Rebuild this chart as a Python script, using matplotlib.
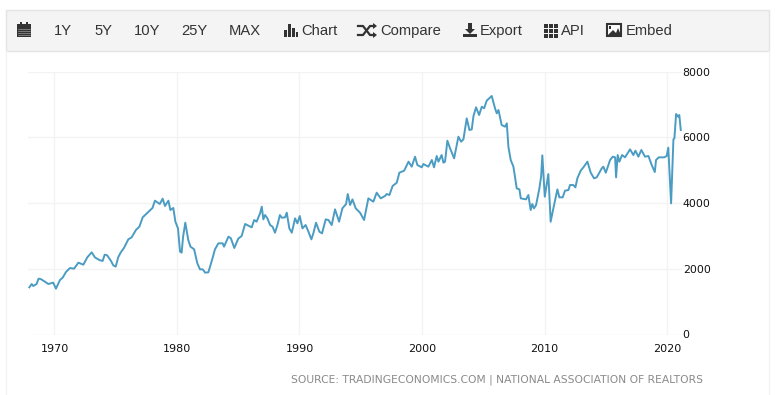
import matplotlib
matplotlib.use('Agg')
import matplotlib.pyplot as plt
from matplotlib.patches import Rectangle, Polygon

# values
years = [1967.95, 1968.14, 1968.27, 1968.54, 1968.7, 1968.87, 1969.09, 1969.5, 1969.9, 1970.12,
         1970.45, 1970.67, 1970.94, 1971.27, 1971.6, 1971.95, 1972.36, 1972.68, 1973.04, 1973.3,
         1973.66, 1973.93, 1974.1, 1974.3, 1974.6, 1974.8, 1975.0, 1975.2, 1975.4, 1975.67,
         1976.03, 1976.3, 1976.65, 1976.93, 1977.2, 1977.66, 1978.0, 1978.2, 1978.6, 1978.83,
         1979.02, 1979.3, 1979.46, 1979.7, 1979.87, 1980.08, 1980.25, 1980.38, 1980.5, 1980.68,
         1980.92, 1981.1, 1981.4, 1981.66, 1981.88, 1982.1, 1982.3, 1982.56, 1982.86, 1983.1,
         1983.38, 1983.73, 1983.84, 1984.2, 1984.4, 1984.68, 1985.0, 1985.28, 1985.56, 1986.1,
         1986.3, 1986.5, 1986.78, 1986.92, 1987.05, 1987.19, 1987.38, 1987.6, 1987.8, 1988.0,
         1988.2, 1988.4, 1988.55, 1988.82, 1988.96, 1989.17, 1989.37, 1989.64, 1989.83, 1990.02,
         1990.24, 1990.5, 1990.73, 1990.97, 1991.13, 1991.35, 1991.62, 1991.84, 1992.14, 1992.36,
         1992.63, 1992.9, 1993.23, 1993.5, 1993.8, 1993.94, 1994.13, 1994.32, 1994.59, 1994.94,
         1995.27, 1995.62, 1996.03, 1996.3, 1996.63, 1996.98, 1997.12, 1997.34, 1997.6, 1997.94,
         1998.15, 1998.54, 1998.9, 1999.16, 1999.43, 1999.62, 1999.98, 2000.11, 2000.52, 2000.8,
         2000.98, 2001.2, 2001.34, 2001.6, 2001.75, 2001.88, 2002.07, 2002.29, 2002.62, 2002.97,
         2003.19, 2003.38, 2003.65, 2003.87, 2004.06, 2004.2, 2004.41, 2004.66, 2004.88, 2005.07,
         2005.28, 2005.69, 2005.96, 2006.1, 2006.24, 2006.5, 2006.78, 2006.92, 2007.05, 2007.24,
         2007.46, 2007.73, 2007.95, 2008.06, 2008.49, 2008.68, 2008.87, 2009.0, 2009.14, 2009.31,
         2009.58, 2009.72, 2009.82, 2010.02, 2010.31, 2010.5, 2010.72, 2011.05, 2011.21, 2011.48,
         2011.67, 2011.95, 2012.08, 2012.35, 2012.52, 2012.68, 2012.95, 2013.17, 2013.5, 2013.77,
         2014.04, 2014.26, 2014.67, 2014.8, 2015.0, 2015.35, 2015.57, 2015.76, 2015.84, 2015.97,
         2016.11, 2016.33, 2016.57, 2016.98, 2017.25, 2017.42, 2017.66, 2017.9, 2018.2, 2018.48,
         2018.75, 2019.0, 2019.1, 2019.32, 2019.76, 2019.97, 2020.1, 2020.33, 2020.52, 2020.6,
         2020.74, 2020.9, 2021.0, 2021.12]
sales = [1435, 1536, 1475, 1536, 1698, 1688, 1638, 1536, 1577, 1394,
         1658, 1729, 1901, 2023, 2003, 2185, 2124, 2347, 2500, 2347,
         2266, 2236, 2429, 2408, 2246, 2104, 2064, 2347, 2490, 2631,
         2895, 2956, 3179, 3280, 3564, 3727, 3848, 4071, 3970, 4132,
         3909, 4071, 3787, 3848, 3432, 3230, 2520, 2490, 2976, 3402,
         2875, 2672, 2591, 2165, 1982, 1982, 1881, 1891, 2266, 2591,
         2773, 2773, 2672, 2976, 2925, 2631, 2915, 2997, 3362, 3260,
         3483, 3432, 3686, 3888, 3503, 3634, 3533, 3330, 3280, 3097,
         3330, 3634, 3553, 3563, 3706, 3229, 3097, 3533, 3381, 3604,
         3229, 3330, 3127, 2894, 3077, 3401, 3127, 3077, 3503, 3482,
         3330, 3807, 3432, 3837, 3969, 4273, 3939, 4111, 3837, 3706,
         3483, 4141, 4040, 4314, 4141, 4213, 4273, 4243, 4517, 4618,
         4922, 4983, 5257, 5105, 5409, 5155, 5085, 5186, 5105, 5308,
         5085, 5429, 5257, 5460, 5226, 5257, 5896, 5663, 5358, 6017,
         5865, 5936, 6575, 6220, 6240, 6646, 6910, 6677, 6930, 6880,
         7113, 7255, 6879, 6727, 6829, 6372, 6322, 6423, 5713, 5308,
         5105, 4445, 4415, 4141, 4111, 4243, 3786, 3969, 3837, 3938,
         4445, 4800, 5449, 4192, 4881, 3431, 3837, 4415, 4172, 4172,
         4374, 4395, 4547, 4547, 4476, 4750, 4983, 5084, 5257, 4922,
         4750, 4780, 5054, 5105, 4922, 5307, 5409, 5389, 4780, 5459,
         5257, 5459, 5389, 5632, 5459, 5591, 5409, 5612, 5409, 5429,
         5155, 4942, 5307, 5389, 5389, 5429, 5683, 3989, 5936, 5967,
         6707, 6626, 6676, 6220]

x_ticks = [1970, 1980, 1990, 2000, 2010, 2020]
y_ticks = [0, 2000, 4000, 6000, 8000]
buttons = ['1Y', '5Y', '10Y', '25Y', 'MAX', 'Chart', 'Compare', 'Export', 'API', 'Embed']
button_x = [54, 94, 134, 181, 229, 301, 380, 480, 561, 626]
source = 'SOURCE: TRADINGECONOMICS.COM | NATIONAL ASSOCIATION OF REALTORS'

fig = plt.figure(figsize=(7.78, 3.95), dpi=100, facecolor='white')

# pixel overlay for the toolbar and panel
bg = fig.add_axes([0, 0, 1, 1], zorder=0)
bg.set_xlim(0, 778)
bg.set_ylim(395, 0)
bg.axis('off')
bg.add_patch(Rectangle((6, 10), 763, 41, fc='#f4f4f4', ec='#e4e4e4', lw=1))
bg.plot([6, 6], [51, 395], color='#f3f3f3', lw=1)
bg.plot([769, 769], [51, 395], color='#f3f3f3', lw=1)

for label, bx in zip(buttons, button_x):
    bg.text(bx, 31, label, fontsize=10.6, family='Liberation Sans', color='#333333', va='center', ha='left')

dark = '#333333'
# calendar
bg.add_patch(Rectangle((17, 24), 14, 13, fc=dark, ec='none'))
bg.add_patch(Rectangle((20, 22), 2, 3, fc=dark, ec='none'))
bg.add_patch(Rectangle((26, 22), 2, 3, fc=dark, ec='none'))
for i in range(4):
    bg.plot([18, 30], [29 + i * 2, 29 + i * 2], color='#9a9a9a', lw=0.5)
# bars
bg.add_patch(Rectangle((284, 30), 3, 7, fc=dark, ec='none'))
bg.add_patch(Rectangle((288, 24), 3, 13, fc=dark, ec='none'))
bg.add_patch(Rectangle((292, 28), 3, 9, fc=dark, ec='none'))
bg.add_patch(Rectangle((296, 32), 2, 5, fc=dark, ec='none'))
# shuffle
bg.plot([358, 363, 370, 374], [26, 26, 35, 35], color=dark, lw=1.6)
bg.plot([358, 363, 370, 374], [35, 35, 26, 26], color=dark, lw=1.6)
bg.add_patch(Polygon([[373, 23], [377, 26], [373, 29]], fc=dark, ec='none'))
bg.add_patch(Polygon([[373, 32], [377, 35], [373, 38]], fc=dark, ec='none'))
# download
bg.add_patch(Rectangle((468, 23), 4, 6, fc=dark, ec='none'))
bg.add_patch(Polygon([[465, 29], [475, 29], [470, 34]], fc=dark, ec='none'))
bg.add_patch(Rectangle((463, 34), 14, 3, fc=dark, ec='none'))
# grid
for i in range(3):
    for j in range(3):
        bg.add_patch(Rectangle((544 + i * 5, 24 + j * 5), 3.6, 3.6, fc=dark, ec='none'))
# image
bg.add_patch(Rectangle((607, 24), 14, 12, fc='white', ec=dark, lw=1.5))
bg.add_patch(Polygon([[608, 35], [613, 30], [616, 33], [618, 28], [621, 35]], fc=dark, ec='none'))
bg.add_patch(Rectangle((609, 26), 2.5, 2.5, fc=dark, ec='none'))

# chart
ax = fig.add_axes([28 / 778, (395 - 334.5) / 395, 654 / 778, 263 / 395], zorder=1)
ax.patch.set_alpha(0)
ax.plot(years, sales, color='#4b9cc3', lw=1.4, solid_joinstyle='round')
ax.set_xlim(1967.84, 2021.22)
ax.set_ylim(0, 8000)
ax.set_xticks(x_ticks)
ax.set_yticks(y_ticks)
ax.grid(True, color='#f3f3f3', lw=1)
ax.set_axisbelow(True)
for s in ax.spines.values():
    s.set_visible(False)
ax.yaxis.tick_right()
ax.tick_params(axis='both', length=0)
ax.tick_params(axis='x', pad=6.5, labelsize=8, labelcolor='#111111')
ax.tick_params(axis='y', pad=0.5, labelsize=7.9, labelcolor='#111111')

bg.text(291, 380, source, fontsize=7.75, color='#8a8a8a', va='center', ha='left')

fig.savefig('out.png', dpi=100)
